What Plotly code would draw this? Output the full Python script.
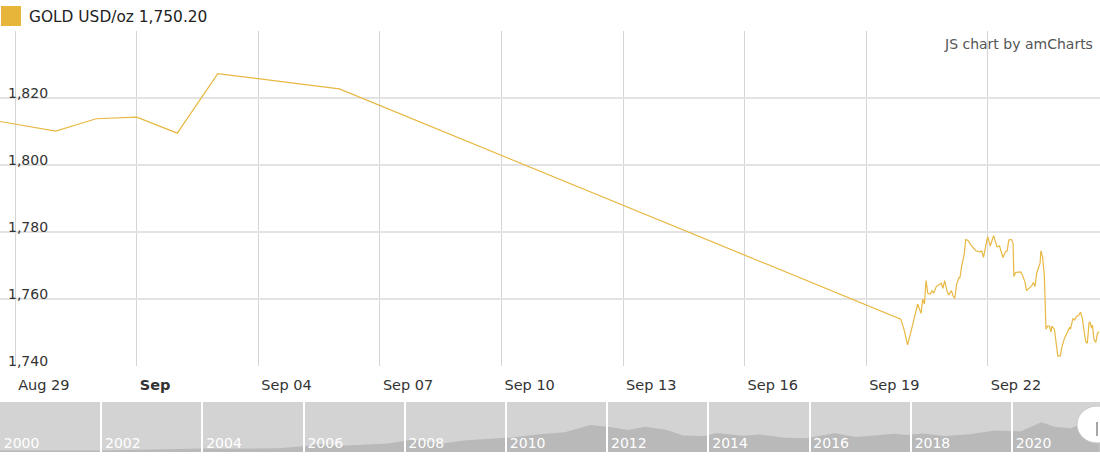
import plotly.graph_objects as go

W, H = 1100, 461

# daily closes (USD/oz)
daily_dates = ["2021-08-27", "2021-08-30", "2021-08-31", "2021-09-01",
               "2021-09-02", "2021-09-03", "2021-09-06"]
daily_prices = [1816.4, 1810.1, 1813.8, 1814.3, 1809.5, 1827.3, 1822.7]

# intraday quotes Sep 19 - Sep 24
intraday_times = [
    "2021-09-19 20:30", "2021-09-19 22:30",
    "2021-09-20 00:30", "2021-09-20 02:30", "2021-09-20 04:00", "2021-09-20 06:30",
    "2021-09-20 08:30", "2021-09-20 09:30", "2021-09-20 10:30", "2021-09-20 11:30",
    "2021-09-20 12:30", "2021-09-20 14:00", "2021-09-20 15:00", "2021-09-20 16:00",
    "2021-09-20 17:30", "2021-09-20 19:30", "2021-09-20 20:30", "2021-09-20 21:30",
    "2021-09-20 22:30",
    "2021-09-21 00:00", "2021-09-21 01:00", "2021-09-21 02:30", "2021-09-21 03:30",
    "2021-09-21 04:30", "2021-09-21 05:30", "2021-09-21 07:00", "2021-09-21 07:30",
    "2021-09-21 08:30", "2021-09-21 10:00", "2021-09-21 11:00", "2021-09-21 12:30",
    "2021-09-21 14:00", "2021-09-21 15:30", "2021-09-21 17:00", "2021-09-21 19:00",
    "2021-09-21 20:30", "2021-09-21 21:30", "2021-09-21 22:30", "2021-09-21 23:30",
    "2021-09-22 00:00", "2021-09-22 01:30", "2021-09-22 02:30", "2021-09-22 03:30",
    "2021-09-22 05:00", "2021-09-22 05:30", "2021-09-22 07:00", "2021-09-22 08:00",
    "2021-09-22 09:00", "2021-09-22 10:30", "2021-09-22 11:30", "2021-09-22 12:30",
    "2021-09-22 14:00", "2021-09-22 15:00", "2021-09-22 15:30", "2021-09-22 16:30",
    "2021-09-22 18:00", "2021-09-22 19:30", "2021-09-22 20:30", "2021-09-22 22:00",
    "2021-09-22 23:00",
    "2021-09-23 00:30", "2021-09-23 01:00", "2021-09-23 02:00", "2021-09-23 03:00",
    "2021-09-23 04:00", "2021-09-23 05:00", "2021-09-23 06:00", "2021-09-23 07:00",
    "2021-09-23 07:30", "2021-09-23 08:30", "2021-09-23 09:30", "2021-09-23 10:30",
    "2021-09-23 11:30", "2021-09-23 12:30", "2021-09-23 13:30", "2021-09-23 14:00",
    "2021-09-23 15:30", "2021-09-23 16:30", "2021-09-23 17:30", "2021-09-23 19:00",
    "2021-09-23 20:00", "2021-09-23 21:30", "2021-09-23 23:00",
    "2021-09-24 00:30", "2021-09-24 01:00", "2021-09-24 02:30", "2021-09-24 03:30",
    "2021-09-24 04:30", "2021-09-24 06:00", "2021-09-24 07:00", "2021-09-24 08:00",
    "2021-09-24 09:00", "2021-09-24 10:00", "2021-09-24 11:00", "2021-09-24 12:00",
    "2021-09-24 12:30", "2021-09-24 13:30", "2021-09-24 14:00", "2021-09-24 15:00",
    "2021-09-24 16:00", "2021-09-24 17:00", "2021-09-24 18:00",
]
intraday_prices = [
    1754.0, 1750.8,
    1746.3, 1750.2, 1753.7, 1758.5, 1755.7, 1760.0, 1758.5, 1765.5,
    1761.7, 1761.5, 1762.5, 1761.7, 1763.7, 1764.2, 1764.7, 1763.2, 1765.5,
    1762.2, 1761.2, 1762.5, 1760.9, 1760.2, 1764.2, 1766.5, 1766.2,
    1769.6, 1773.1, 1777.8, 1777.4, 1776.1, 1775.4, 1774.4, 1774.1,
    1774.3, 1772.4, 1775.6, 1777.6,
    1778.6, 1775.8, 1777.4, 1778.9, 1776.4, 1775.6, 1775.8, 1774.1,
    1772.4, 1774.1, 1774.4, 1777.6, 1777.8, 1776.6, 1766.7, 1767.9,
    1767.9, 1768.1, 1767.2, 1765.2, 1762.5,
    1763.2, 1763.7, 1763.9, 1764.9, 1763.7, 1767.7, 1769.5, 1770.7,
    1774.4, 1772.4, 1767.2, 1751.0, 1751.9, 1751.9, 1750.2, 1751.9,
    1751.0, 1746.6, 1743.0, 1743.0, 1745.8, 1748.3, 1750.2,
    1751.6, 1751.0, 1754.2, 1753.7, 1754.7, 1755.2, 1756.1, 1754.2,
    1749.8, 1747.3, 1746.8, 1752.9, 1753.2, 1751.3, 1752.2, 1747.8,
    1747.0, 1749.8, 1750.2,
]

# long history for the scrollbar navigator
nav_dates = ["2000-01", "2000-07", "2001-01", "2001-07", "2002-01", "2002-07",
             "2003-01", "2003-07", "2004-01", "2004-07", "2005-01", "2005-07",
             "2006-01", "2006-05", "2006-10", "2007-03", "2007-09", "2008-03",
             "2008-10", "2009-03", "2009-09", "2010-03", "2010-09", "2011-03",
             "2011-09", "2012-02", "2012-06", "2012-10", "2013-03", "2013-07",
             "2013-12", "2014-03", "2014-09", "2015-01", "2015-07", "2015-12",
             "2016-07", "2016-12", "2017-09", "2017-12", "2018-04", "2018-09",
             "2019-03", "2019-09", "2020-03", "2020-08", "2020-11", "2021-03",
             "2021-05", "2021-09-24"]
nav_prices = [285, 282, 265, 268, 280, 315, 355, 350, 410, 395, 425, 425,
              550, 700, 590, 660, 730, 980, 730, 920, 1000, 1110, 1300, 1430,
              1880, 1740, 1570, 1780, 1590, 1230, 1200, 1380, 1210, 1290, 1090,
              1060, 1360, 1130, 1340, 1250, 1350, 1190, 1300, 1540, 1480, 2060,
              1780, 1680, 1900, 1750]

x_ticks = ["2021-08-29", "2021-09-01", "2021-09-04", "2021-09-07", "2021-09-10",
           "2021-09-13", "2021-09-16", "2021-09-19", "2021-09-22"]
x_tick_text = ["Aug 29", "<b>Sep</b>", "Sep 04", "Sep 07", "Sep 10",
               "Sep 13", "Sep 16", "Sep 19", "Sep 22"]
y_ticks = [1740, 1760, 1780, 1800, 1820, 1840]
y_tick_text = ["1,740", "1,760", "1,780", "1,800", "1,820", ""]

last_price = intraday_prices[-1]
dates = daily_dates + intraday_times
prices = daily_prices + intraday_prices


def py(px):
    return 1 - px / H


def px_x(px):
    return px / W


FONT = "DejaVu Sans, Verdana, sans-serif"
LINE = "#e8b843"

fig = go.Figure()
fig.add_trace(go.Scatter(x=dates, y=prices, mode="lines",
                         line=dict(color=LINE, width=1.2),
                         xaxis="x", yaxis="y", showlegend=False))
fig.add_trace(go.Scatter(x=nav_dates, y=nav_prices, mode="lines",
                         line=dict(width=0), fill="tozeroy",
                         fillcolor="#b9b9b9",
                         xaxis="x2", yaxis="y2", showlegend=False))

fig.update_layout(
    width=W, height=H,
    margin=dict(l=0, r=0, t=0, b=0),
    paper_bgcolor="white", plot_bgcolor="white",
    font=dict(family=FONT, color="#333", size=14),
    xaxis=dict(
        range=["2021-08-28 15:00", "2021-09-24 18:30"],
        tickvals=x_ticks, ticktext=x_tick_text,
        ticklabelposition="outside right", ticklabeloverflow="allow",
        ticklabelshift=3, ticklabelstandoff=8,
        ticks="", showgrid=True, gridcolor="#d5d5d5", gridwidth=1,
        zeroline=False, showline=False, automargin=False,
        tickfont=dict(size=14.5, color="#333"),
        domain=[0, 1], anchor="y",
    ),
    yaxis=dict(
        range=[1740, 1840], domain=[py(366), py(31)],
        tickvals=y_ticks, ticktext=y_tick_text,
        ticklabelposition="inside top", ticklabeloverflow="allow",
        ticklabelstandoff=5, ticklabelshift=5, ticks="",
        showgrid=True, gridcolor="#e3e3e3", gridwidth=1.5,
        zeroline=False, showline=False, automargin=False,
        tickfont=dict(size=14, color="#333"),
        anchor="x",
    ),
    xaxis2=dict(
        range=["2000-01-01", "2021-09-27"],
        tick0="2000-01-01", dtick="M24", tickformat="%Y",
        ticks="inside", ticklen=50, tickwidth=1.5, tickcolor="white",
        ticklabelposition="inside right", ticklabeloverflow="allow",
        ticklabelshift=3, ticklabelstandoff=-5,
        tickfont=dict(size=14, color="white"),
        showgrid=False, zeroline=False, showline=False, automargin=False,
        layer="above traces",
        domain=[0, 1], anchor="y2",
    ),
    yaxis2=dict(
        range=[190, 3330], domain=[py(452), py(402)],
        visible=False, anchor="x2", automargin=False,
    ),
    shapes=[
        # navigator background
        dict(type="rect", xref="x2 domain", yref="y2 domain",
             x0=0, x1=1, y0=0, y1=1, fillcolor="#d3d3d3",
             line=dict(width=0), layer="below"),
        # legend swatch
        dict(type="rect", xref="paper", yref="paper",
             x0=px_x(1), x1=px_x(21), y0=py(26), y1=py(6),
             fillcolor="#e6b53a", line=dict(width=0)),
        # scrollbar grip
        dict(type="circle", xref="paper", yref="paper",
             x0=px_x(1077), x1=px_x(1117), y0=py(443), y1=py(406),
             fillcolor="white", line=dict(color="#c8c8c8", width=1)),
        dict(type="line", xref="paper", yref="paper",
             x0=px_x(1097), x1=px_x(1097), y0=py(436), y1=py(422),
             line=dict(color="#888", width=1.5)),
    ],
    annotations=[
        dict(text=f"GOLD USD/oz {last_price:,.2f}", xref="paper", yref="paper",
             x=px_x(27), y=py(17), xanchor="left", yanchor="middle",
             showarrow=False, font=dict(size=15.4, color="#222")),
        dict(text="JS chart by amCharts", xref="paper", yref="paper",
             x=px_x(1095), y=py(44), xanchor="right", yanchor="middle",
             showarrow=False, font=dict(size=14, color="#555")),
    ],
)

# drop the default body margin so the chart sits flush in the window
fig.write_html("out.html", config={"displayModeBar": False},
               post_script="document.body.style.margin='0';")
